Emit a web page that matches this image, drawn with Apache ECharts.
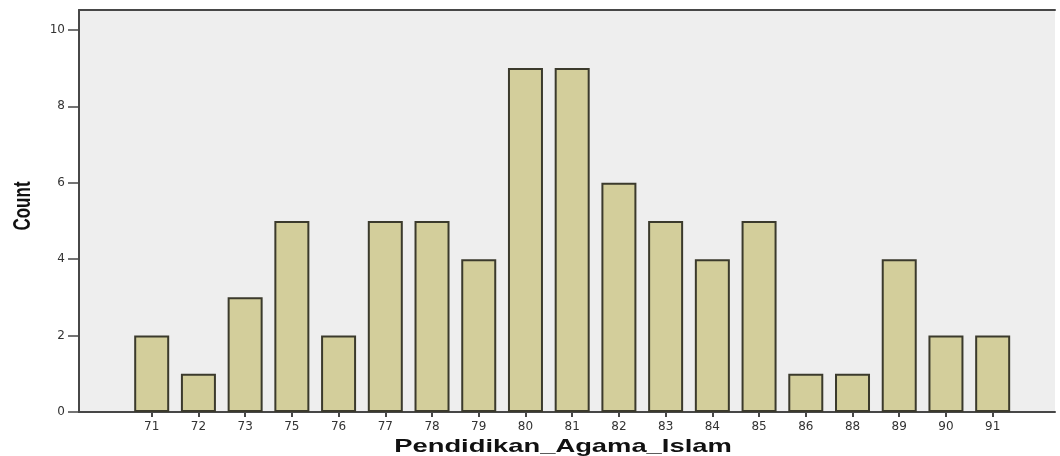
<!DOCTYPE html>
<html>
<head>
  <meta charset="utf-8">
  <script src="https://cdn.jsdelivr.net/npm/echarts@6/dist/echarts.min.js"></script>
  <style>
    body { margin: 0; background: #fff; }
    #chart { width: 1060px; height: 456px; }
  </style>
</head>
<body>
  <div id="chart"></div>
  <script>
    // scores and how many students got each one
    var scores = ['71', '72', '73', '75', '76', '77', '78', '79', '80', '81',
                  '82', '83', '84', '85', '86', '88', '89', '90', '91'];
    var counts = [2, 1, 3, 5, 2, 5, 5, 4, 9, 9, 6, 5, 4, 5, 1, 1, 4, 2, 2];
    var yTicks = [0, 2, 4, 6, 8, 10];
    var xTitle = 'Pendidikan_Agama_Islam';
    var yTitle = 'Count';

    var idx = scores.map(function (_, i) { return i; });
    var barData = counts.map(function (v, i) { return [i, v]; });

    var chart = echarts.init(document.getElementById('chart'), null, { renderer: 'canvas' });

    var lineStyle = { color: '#474747', width: 2 };

    var option = {
      animation: false,
      grid: {
        left: 79, top: 10, width: 976, height: 402,
        show: true, backgroundColor: '#eeeeee', borderWidth: 0
      },
      xAxis: [{
        type: 'value',
        min: -1.556, max: 19.334,
        axisLine: { show: true, onZero: false, lineStyle: lineStyle },
        axisTick: { show: true, inside: false, length: 5, customValues: idx, lineStyle: { color: '#474747', width: 2 } },
        axisLabel: {
          customValues: idx, margin: 9,
          color: '#333', fontSize: 12, fontFamily: 'DejaVu Sans',
          formatter: function (v) { return scores[v]; }
        },
        splitLine: { show: false }
      }, {
        type: 'value', position: 'top',
        min: -1.556, max: 19.334,
        axisLine: { show: true, onZero: false, lineStyle: lineStyle },
        axisTick: { show: false }, axisLabel: { show: false }, splitLine: { show: false }
      }],
      yAxis: {
        type: 'value',
        min: 0, max: 10.52,
        axisLine: { show: true, onZero: false, lineStyle: lineStyle },
        axisTick: { show: true, inside: false, length: 11, customValues: yTicks, lineStyle: { color: '#474747', width: 1.5 } },
        axisLabel: {
          customValues: yTicks, margin: 14,
          color: '#333', fontSize: 12, fontFamily: 'DejaVu Sans'
        },
        splitLine: { show: false }
      },
      series: [{
        type: 'bar',
        data: barData,
        barWidth: 35,
        itemStyle: { color: '#d3ce9b', borderColor: '#3b3a2c', borderWidth: 2 }
      }],
      graphic: [{
        type: 'text', x: 563, y: 447, scaleX: 1.44,
        style: {
          text: xTitle, fill: '#111',
          font: 'bold 19px "Liberation Sans", Arial, sans-serif',
          textAlign: 'center', textVerticalAlign: 'middle'
        }
      }, {
        type: 'text', x: 23, y: 206, rotation: Math.PI / 2, scaleY: 1.45,
        style: {
          text: yTitle, fill: '#111',
          font: 'bold 17px "Liberation Sans", Arial, sans-serif',
          textAlign: 'center', textVerticalAlign: 'middle'
        }
      }]
    };

    chart.setOption(option);
  </script>
</body>
</html>
